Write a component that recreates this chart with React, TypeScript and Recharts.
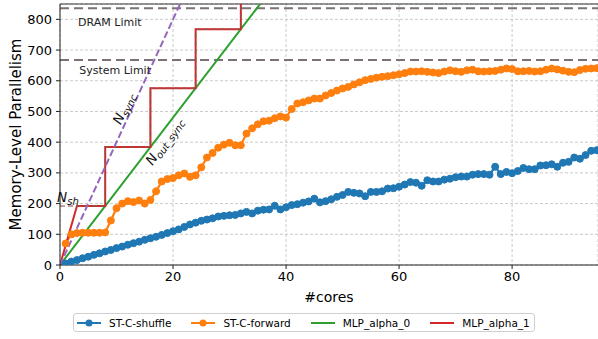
import React from "react";
import {
  LineChart,
  Line,
  XAxis,
  YAxis,
  CartesianGrid,
  ReferenceLine,
  ReferenceDot,
} from "recharts";

const cores = Array.from({ length: 95 }, (_, i) => i + 1);

const shuffleValues = [
  5, 11, 16, 22, 27, 33, 38, 44, 49, 55,
  60, 66, 71, 76, 82, 87, 92, 98, 104, 110,
  116, 124, 132, 138, 144, 148, 152, 158, 160, 162,
  163, 168, 173, 168, 177, 180, 181, 193, 181, 188,
  195, 198, 203, 207, 216, 204, 208, 214, 222, 228,
  238, 235, 233, 224, 238, 238, 240, 249, 250, 255,
  262, 270, 268, 258, 276, 272, 272, 278, 281, 286,
  288, 288, 294, 296, 296, 294, 320, 296, 303, 299,
  306, 316, 312, 312, 324, 325, 328, 320, 333, 336,
  350, 346, 358, 372, 374,
];

const forwardValues = [
  70, 100, 104, 105, 105, 105, 105, 106, 145, 185,
  200, 208, 205, 210, 200, 212, 240, 272, 280, 283,
  292, 298, 287, 292, 318, 350, 365, 382, 392, 398,
  390, 390, 428, 445, 458, 468, 470, 478, 484, 480,
  508, 526, 530, 536, 542, 542, 552, 560, 568, 575,
  580, 588, 595, 602, 606, 610, 613, 615, 618, 621,
  625, 630, 630, 631, 629, 627, 625, 630, 634, 631,
  629, 634, 636, 631, 630, 631, 632, 636, 640, 638,
  631, 631, 632, 630, 631, 636, 640, 637, 633, 629,
  628, 635, 639, 640, 641,
];

// MLP_alpha_0: straight line, 24 per core
const alpha0X = [0, 40];
const alpha0Y = [0, 960];

// MLP_alpha_1: step curve
const alpha1X = [0, 3, 8, 8, 16, 16, 24, 24, 32, 32];
const alpha1Y = [0, 192, 192, 384, 384, 576, 576, 768, 768, 1000];

// N_sh dashed steps
const nshX = [0, 8, 8, 16, 16, 24, 24, 32, 32];
const nshY = [192, 192, 384, 384, 576, 576, 768, 768, 1000];

// N_sync dashed line
const syncX = [0, 25];
const syncY = [0, 1000];

const dramLimit = 836;
const systemLimit = 668;

const xTicks = [0, 20, 40, 60, 80];
const yTicks = [0, 100, 200, 300, 400, 500, 600, 700, 800];

const zip = (xs: number[], ys: number[]) => xs.map((x, i) => ({ x, y: ys[i] }));

const shuffleData = zip(cores, shuffleValues);
const forwardData = zip(cores, forwardValues);
const alpha0Data = zip(alpha0X, alpha0Y);
const alpha1Data = zip(alpha1X, alpha1Y);
const nshData = zip(nshX, nshY);
const syncData = zip(syncX, syncY);

const FONT = "DejaVu Sans";

const BLUE = "#1f77b4";
const ORANGE = "#ff7f0e";
const GREEN = "#2ca02c";
const RED = "#d62728";
const PURPLE = "#9467bd";
const BROWN = "#8c564b";
const LIMIT = "#7a7274";

const plainLabel = (text: string) => (p: any) => (
  <text
    x={p.cx}
    y={p.cy}
    fontFamily={FONT}
    fontSize={11}
    fill="#222"
    textAnchor="start"
    dominantBaseline="central"
  >
    {text}
  </text>
);

const subLabel = (main: string, sub: string, angle: number) => (p: any) => (
  <text
    x={p.cx}
    y={p.cy}
    fontFamily={FONT}
    fontSize={13.5}
    fontStyle="italic"
    fill="#111"
    textAnchor="middle"
    dominantBaseline="central"
    transform={`rotate(${angle} ${p.cx} ${p.cy})`}
  >
    {main}
    <tspan fontSize={10} dy={4}>
      {sub}
    </tspan>
  </text>
);

const legendItems = [
  { name: "ST-C-shuffle", color: BLUE, marker: true },
  { name: "ST-C-forward", color: ORANGE, marker: true },
  { name: "MLP_alpha_0", color: GREEN, marker: false },
  { name: "MLP_alpha_1", color: RED, marker: false },
];

export default function App() {
  return (
    <div style={{ position: "absolute", left: 0, top: 0, width: 598, height: 339, background: "#fff" }}>
      <LineChart
        width={598}
        height={339}
        margin={{ top: 4, right: 0, bottom: 34, left: 0 }}
      >
        <CartesianGrid stroke="#bdbdbd" strokeDasharray="3 2" strokeWidth={0.8} />
        <XAxis
          type="number"
          dataKey="x"
          domain={[0, 95.2]}
          ticks={xTicks}
          allowDataOverflow
          height={40}
          tickSize={4}
          tickMargin={3}
          stroke="#222"
          tick={{ fontSize: 13, fontFamily: FONT, fill: "#000" }}
          label={{
            value: "#cores",
            position: "insideBottom",
            offset: 3,
            style: { fontSize: 14, fontFamily: FONT, fill: "#000" },
          }}
        />
        <YAxis
          type="number"
          domain={[0, 850]}
          ticks={yTicks}
          allowDataOverflow
          width={60}
          tickSize={4}
          tickMargin={4}
          stroke="#222"
          tick={{ fontSize: 13, fontFamily: FONT, fill: "#000" }}
          label={{
            value: "Memory-Level Parallelism",
            angle: -90,
            position: "insideLeft",
            offset: 16,
            style: { fontSize: 15, fontFamily: FONT, fill: "#000", textAnchor: "middle" },
          }}
        />
        <ReferenceLine y={850} stroke="#333" strokeWidth={1.2} />
        <ReferenceLine y={dramLimit} stroke={LIMIT} strokeWidth={2} strokeDasharray="9 5" />
        <ReferenceLine y={systemLimit} stroke={LIMIT} strokeWidth={2} strokeDasharray="9 5" />

        <Line
          data={shuffleData}
          dataKey="y"
          stroke={BLUE}
          strokeWidth={2.2}
          dot={{ r: 3.5, fill: BLUE, stroke: BLUE, strokeWidth: 1 }}
          isAnimationActive={false}
        />
        <Line
          data={forwardData}
          dataKey="y"
          stroke={ORANGE}
          strokeWidth={2.2}
          dot={{ r: 3.5, fill: ORANGE, stroke: ORANGE, strokeWidth: 1 }}
          isAnimationActive={false}
        />
        <Line
          data={alpha0Data}
          dataKey="y"
          stroke={GREEN}
          strokeWidth={2}
          dot={false}
          isAnimationActive={false}
        />
        <Line
          data={alpha1Data}
          dataKey="y"
          stroke={RED}
          strokeWidth={2}
          dot={false}
          isAnimationActive={false}
        />
        <Line
          data={nshData}
          dataKey="y"
          stroke={BROWN}
          strokeWidth={1.5}
          strokeOpacity={0.75}
          strokeDasharray="5 3"
          dot={false}
          isAnimationActive={false}
        />
        <Line
          data={syncData}
          dataKey="y"
          stroke={PURPLE}
          strokeWidth={2}
          strokeDasharray="7 3"
          dot={false}
          isAnimationActive={false}
        />

        <ReferenceDot x={3.2} y={790} r={0} shape={plainLabel("DRAM Limit")} />
        <ReferenceDot x={3.4} y={634} r={0} shape={plainLabel("System Limit")} />
        <ReferenceDot x={11.2} y={511} r={0} shape={subLabel("N", "sync", -65)} />
        <ReferenceDot x={18.4} y={404} r={0} shape={subLabel("N", "out_sync", -55)} />
        <ReferenceDot x={1.4} y={220} r={0} shape={subLabel("N", "sh", 0)} />
      </LineChart>

      <div
        style={{
          position: "absolute",
          left: 73,
          top: 313,
          height: 19,
          border: "1px solid #d0d0d0",
          borderRadius: 3,
          display: "flex",
          alignItems: "center",
          gap: 20,
          padding: "0 4px 0 3px",
          fontFamily: FONT,
          fontSize: 10.5,
          color: "#000",
          boxSizing: "border-box",
        }}
      >
        {legendItems.map((it) => (
          <div key={it.name} style={{ display: "flex", alignItems: "center", gap: 8 }}>
            <svg width={24} height={10}>
              <line x1={0} y1={5} x2={24} y2={5} stroke={it.color} strokeWidth={2} />
              {it.marker && <circle cx={12} cy={5} r={3.5} fill={it.color} />}
            </svg>
            <span>{it.name}</span>
          </div>
        ))}
      </div>
    </div>
  );
}
